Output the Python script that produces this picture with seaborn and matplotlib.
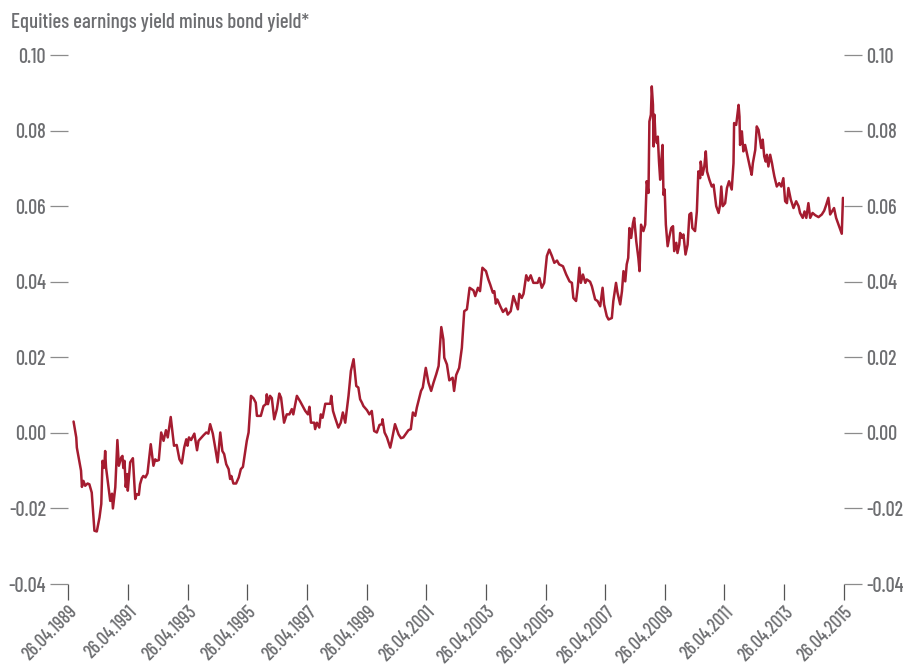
import numpy as np
import pandas as pd
import matplotlib
matplotlib.use("Agg")
import matplotlib.pyplot as plt
from matplotlib.ticker import FormatStrFormatter
import seaborn as sns

# time positions (decimal years)
year_pos = [
    1989.49, 1989.58, 1989.60, 1989.74, 1989.77, 1989.82, 1989.88, 1989.96, 1990.02, 1990.10,
    1990.19, 1990.27, 1990.36, 1990.42, 1990.46, 1990.52, 1990.55, 1990.58, 1990.72, 1990.78,
    1990.81, 1990.89, 1990.96, 1991.01, 1991.09, 1991.13, 1991.16, 1991.20, 1991.24, 1991.29,
    1991.31, 1991.39, 1991.48, 1991.56, 1991.61, 1991.68, 1991.72, 1991.78, 1991.83, 1991.90,
    1991.97, 1992.08, 1992.17, 1992.23, 1992.28, 1992.35, 1992.43, 1992.51, 1992.59, 1992.65,
    1992.75, 1992.82, 1992.86, 1992.95, 1993.04, 1993.12, 1993.20, 1993.27, 1993.31, 1993.36,
    1993.43, 1993.54, 1993.63, 1993.68, 1993.85, 1993.94, 1994.01, 1994.07, 1994.16, 1994.24,
    1994.32, 1994.41, 1994.48, 1994.54, 1994.61, 1994.69, 1994.74, 1994.78, 1994.85, 1994.94,
    1995.03, 1995.10, 1995.17, 1995.25, 1995.30, 1995.36, 1995.44, 1995.52, 1995.60, 1995.64,
    1995.77, 1995.86, 1995.94, 1995.97, 1996.01, 1996.08, 1996.14, 1996.22, 1996.31, 1996.39,
    1996.45, 1996.55, 1996.64, 1996.73, 1996.81, 1996.86, 1996.98, 1997.09, 1997.26, 1997.35,
    1997.40, 1997.45, 1997.56, 1997.59, 1997.65, 1997.73, 1997.78, 1997.84, 1997.93, 1998.10,
    1998.13, 1998.19, 1998.26, 1998.37, 1998.45, 1998.52, 1998.60, 1998.71, 1998.79, 1998.88,
    1998.97, 1999.04, 1999.10, 1999.16, 1999.21, 1999.33, 1999.41, 1999.49, 1999.57, 1999.66,
    1999.75, 1999.83, 1999.85, 1999.92, 2000.00, 2000.11, 2000.16, 2000.27, 2000.39, 2000.47,
    2000.55, 2000.72, 2000.80, 2000.87, 2000.95, 2001.00, 2001.14, 2001.20, 2001.30, 2001.39,
    2001.48, 2001.56, 2001.65, 2001.73, 2001.82, 2001.89, 2001.92, 2002.01, 2002.09, 2002.20,
    2002.25, 2002.32, 2002.42, 2002.51, 2002.59, 2002.68, 2002.77, 2002.90, 2002.96, 2003.05,
    2003.12, 2003.20, 2003.32, 2003.40, 2003.46, 2003.55, 2003.60, 2003.65, 2003.70, 2003.80,
    2003.89, 2003.99, 2004.05, 2004.15, 2004.24, 2004.32, 2004.39, 2004.44, 2004.52, 2004.58,
    2004.67, 2004.74, 2004.82, 2004.91, 2005.05, 2005.11, 2005.19, 2005.27, 2005.36, 2005.44,
    2005.53, 2005.61, 2005.70, 2005.77, 2005.90, 2006.01, 2006.12, 2006.20, 2006.25, 2006.34,
    2006.40, 2006.45, 2006.50, 2006.57, 2006.65, 2006.70, 2006.81, 2006.87, 2006.98, 2007.06,
    2007.15, 2007.23, 2007.28, 2007.37, 2007.43, 2007.54, 2007.59, 2007.68, 2007.73, 2007.82,
    2007.88, 2007.93, 2007.99, 2008.04, 2008.09, 2008.13, 2008.19, 2008.25, 2008.29, 2008.36,
    2008.43, 2008.47, 2008.52, 2008.60, 2008.66, 2008.71, 2008.77, 2008.80, 2008.85, 2008.88,
    2008.92, 2008.94, 2008.97, 2009.00, 2009.05, 2009.08, 2009.12, 2009.16, 2009.19, 2009.24,
    2009.27, 2009.31, 2009.35, 2009.41, 2009.47, 2009.53, 2009.59, 2009.63, 2009.70, 2009.74,
    2009.80, 2009.83, 2009.89, 2009.94, 2010.01, 2010.08, 2010.14, 2010.20, 2010.24, 2010.33,
    2010.39, 2010.44, 2010.50, 2010.52, 2010.58, 2010.64, 2010.69, 2010.73, 2010.81, 2010.89,
    2010.95, 2011.04, 2011.12, 2011.17, 2011.21, 2011.26, 2011.34, 2011.40, 2011.47, 2011.56,
    2011.62, 2011.64, 2011.71, 2011.79, 2011.82, 2011.84, 2011.90, 2011.95, 2012.01, 2012.07,
    2012.12, 2012.18, 2012.23, 2012.27, 2012.35, 2012.40, 2012.46, 2012.51, 2012.55, 2012.60,
    2012.65, 2012.70, 2012.74, 2012.79, 2012.85, 2012.91, 2012.94, 2012.99, 2013.07, 2013.15,
    2013.22, 2013.29, 2013.35, 2013.41, 2013.46, 2013.54, 2013.63, 2013.72, 2013.80, 2013.85,
    2013.94, 2014.00, 2014.06, 2014.13, 2014.19, 2014.27, 2014.36, 2014.47, 2014.58, 2014.66,
    2014.73, 2014.80, 2014.86, 2014.92, 2014.99, 2015.06, 2015.14, 2015.20, 2015.25, 2015.29,
]

# earnings yield minus bond yield
spread = [
    0.0030, -0.0012, -0.0039, -0.0100, -0.0143, -0.0127, -0.0140, -0.0134, -0.0136, -0.0158,
    -0.0259, -0.0261, -0.0224, -0.0188, -0.0074, -0.0092, -0.0048, -0.0092, -0.0180, -0.0161,
    -0.0200, -0.0144, -0.0019, -0.0087, -0.0065, -0.0061, -0.0093, -0.0074, -0.0143, -0.0109,
    -0.0153, -0.0078, -0.0067, -0.0175, -0.0162, -0.0164, -0.0136, -0.0120, -0.0114, -0.0118,
    -0.0107, -0.0030, -0.0087, -0.0070, -0.0074, -0.0072, 0.0001, -0.0021, 0.0007, -0.0012,
    0.0042, -0.0008, -0.0034, -0.0032, -0.0070, -0.0081, -0.0039, -0.0017, -0.0034, -0.0012,
    -0.0019, -0.0002, -0.0046, -0.0021, -0.0006, 0.0001, -0.0002, 0.0023, -0.0002, -0.0039,
    -0.0078, 0.0001, -0.0048, -0.0056, -0.0083, -0.0096, -0.0122, -0.0114, -0.0134, -0.0134,
    -0.0118, -0.0096, -0.0090, -0.0048, -0.0021, 0.0001, 0.0098, 0.0092, 0.0080, 0.0045,
    0.0045, 0.0071, 0.0076, 0.0102, 0.0076, 0.0098, 0.0092, 0.0036, 0.0063, 0.0104,
    0.0093, 0.0027, 0.0049, 0.0049, 0.0063, 0.0049, 0.0098, 0.0083, 0.0058, 0.0049,
    0.0069, 0.0027, 0.0027, 0.0010, 0.0027, 0.0014, 0.0049, 0.0040, 0.0077, 0.0077,
    0.0098, 0.0058, 0.0040, 0.0014, 0.0027, 0.0054, 0.0027, 0.0098, 0.0164, 0.0195,
    0.0124, 0.0120, 0.0089, 0.0080, 0.0071, 0.0060, 0.0049, 0.0058, 0.0005, 0.0001,
    0.0021, 0.0023, 0.0036, 0.0001, -0.0012, -0.0039, -0.0021, 0.0023, -0.0004, -0.0014,
    -0.0012, 0.0007, 0.0010, 0.0054, 0.0045, 0.0067, 0.0111, 0.0120, 0.0172, 0.0133,
    0.0111, 0.0133, 0.0155, 0.0177, 0.0280, 0.0247, 0.0199, 0.0181, 0.0139, 0.0146,
    0.0111, 0.0153, 0.0172, 0.0225, 0.0322, 0.0327, 0.0384, 0.0377, 0.0362, 0.0384,
    0.0375, 0.0437, 0.0428, 0.0406, 0.0393, 0.0371, 0.0375, 0.0342, 0.0353, 0.0335,
    0.0320, 0.0329, 0.0313, 0.0322, 0.0362, 0.0344, 0.0327, 0.0368, 0.0357, 0.0368,
    0.0417, 0.0403, 0.0417, 0.0397, 0.0397, 0.0410, 0.0384, 0.0397, 0.0468, 0.0485,
    0.0468, 0.0450, 0.0456, 0.0446, 0.0441, 0.0419, 0.0401, 0.0397, 0.0357, 0.0349,
    0.0388, 0.0437, 0.0397, 0.0419, 0.0397, 0.0406, 0.0400, 0.0388, 0.0353, 0.0349,
    0.0335, 0.0384, 0.0340, 0.0309, 0.0300, 0.0304, 0.0349, 0.0397, 0.0371, 0.0340,
    0.0375, 0.0428, 0.0401, 0.0446, 0.0463, 0.0542, 0.0516, 0.0555, 0.0569, 0.0507,
    0.0463, 0.0428, 0.0551, 0.0534, 0.0551, 0.0666, 0.0635, 0.0824, 0.0842, 0.0917,
    0.0868, 0.0758, 0.0842, 0.0784, 0.0767, 0.0784, 0.0718, 0.0670, 0.0714, 0.0762,
    0.0630, 0.0644, 0.0551, 0.0494, 0.0520, 0.0542, 0.0547, 0.0481, 0.0503, 0.0476,
    0.0498, 0.0529, 0.0516, 0.0525, 0.0472, 0.0498, 0.0578, 0.0582, 0.0542, 0.0534,
    0.0586, 0.0692, 0.0674, 0.0718, 0.0683, 0.0705, 0.0745, 0.0692, 0.0670, 0.0652,
    0.0657, 0.0600, 0.0582, 0.0604, 0.0652, 0.0600, 0.0608, 0.0648, 0.0666, 0.0644,
    0.0714, 0.0820, 0.0815, 0.0868, 0.0837, 0.0762, 0.0798, 0.0745, 0.0762, 0.0740,
    0.0723, 0.0700, 0.0683, 0.0714, 0.0749, 0.0811, 0.0802, 0.0776, 0.0754, 0.0776,
    0.0732, 0.0718, 0.0736, 0.0705, 0.0736, 0.0714, 0.0700, 0.0679, 0.0652, 0.0661,
    0.0652, 0.0674, 0.0613, 0.0608, 0.0648, 0.0617, 0.0595, 0.0613, 0.0600, 0.0582,
    0.0569, 0.0586, 0.0569, 0.0608, 0.0569, 0.0582, 0.0576, 0.0571, 0.0578, 0.0588,
    0.0604, 0.0622, 0.0578, 0.0586, 0.0595, 0.0569, 0.0551, 0.0538, 0.0527, 0.0622,
]

tick_years = list(range(1989, 2016, 2))
tick_labels = [f"26.04.{y}" for y in tick_years]
y_ticks = [-0.04, -0.02, 0.00, 0.02, 0.04, 0.06, 0.08, 0.10]
title = "Equities earnings yield minus bond yield*"

# decimal year -> timestamp
dates = pd.to_datetime([f"{int(y)}-01-01" for y in year_pos]) + \
    pd.to_timedelta([(y - int(y)) * 365.25 for y in year_pos], unit="D")
df = pd.DataFrame({"date": dates, "spread": spread})
tick_dates = [pd.Timestamp(f"{y}-04-26") for y in tick_years]

sns.set_style("white")
plt.rcParams["font.family"] = ["Barlow Condensed", "DejaVu Sans"]
plt.rcParams["font.weight"] = 500
plt.rcParams["axes.unicode_minus"] = False

text_col = "#6d6e71"
tick_col = "#8c8c8c"
line_col = "#a51c30"

fig = plt.figure(figsize=(9.04, 6.66), dpi=100)
ax = fig.add_axes([0.0756, 0.1231, 0.8577, 0.7943])

sns.lineplot(data=df, x="date", y="spread", color=line_col, linewidth=1.8, ax=ax)

ax.set_xlim(tick_dates[0], tick_dates[-1])
ax.set_ylim(-0.04, 0.10)
ax.set_yticks(y_ticks)
ax.yaxis.set_major_formatter(FormatStrFormatter("%.2f"))
ax.set_xticks(tick_dates)
ax.set_xticklabels(tick_labels, rotation=45, ha="right", rotation_mode="anchor")
ax.set_xlabel("")
ax.set_ylabel("")

for s in ax.spines.values():
    s.set_visible(False)

ax.tick_params(axis="y", left=True, right=True, labelleft=True, labelright=True,
               length=13, width=0.9, color=tick_col, labelcolor=text_col,
               labelsize=14.5, pad=3)
ax.tick_params(axis="x", bottom=True, length=11.5, width=0.9, color="#555555",
               labelcolor=text_col, labelsize=13.5, pad=2)

fig.text(0.012, 0.966, title, ha="left", va="center", fontsize=15, color=text_col)

fig.savefig("out.png", dpi=100)
